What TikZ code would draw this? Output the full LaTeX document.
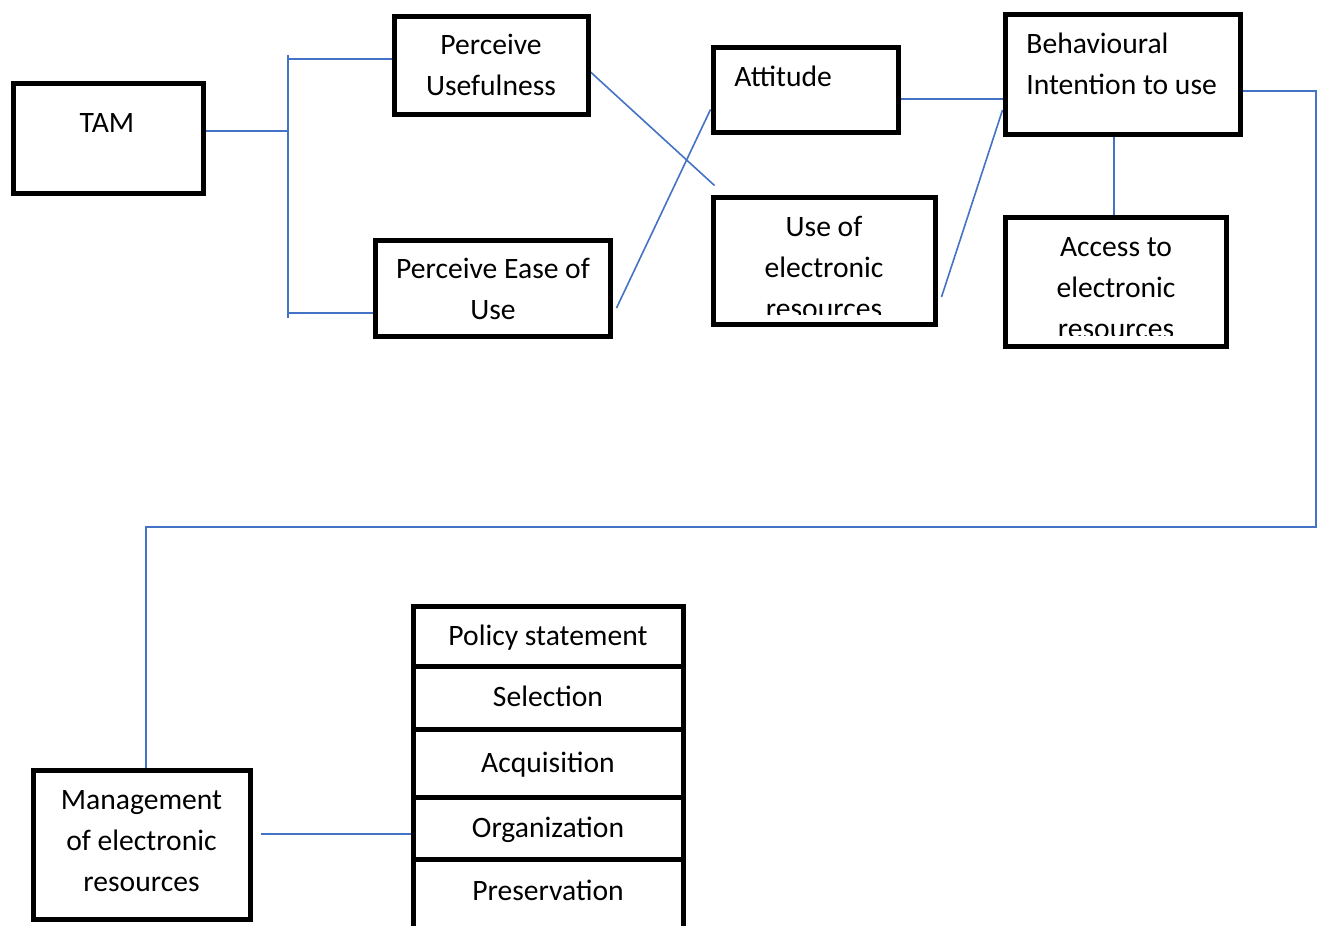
\documentclass[tikz,border=0pt]{standalone}
\usepackage{fontspec}
\setmainfont{Carlito}
\usepackage{tikz}
\usetikzlibrary{positioning,backgrounds}
\definecolor{lineblue}{RGB}{68,114,196}
\newcommand{\boxfont}{\fontsize{14.8pt}{20.5pt}\selectfont}
\tikzset{
  box/.style={draw, line width=2.5pt, inner sep=0pt, fill=white},
  txt/.style={inner sep=0pt, align=center, font=\boxfont},
  link/.style={draw=lineblue, line width=0.8pt},
  cell/.style={box, minimum width=135pt, font=\boxfont, text height=11pt, text depth=2pt}
}
\begin{document}
\begin{tikzpicture}[x=0.5pt,y=-0.5pt]
			\useasboundingbox (0,0) rectangle (1317,926);
			\node[box, minimum width=95pt, minimum height=55pt] (tam) at (108,138) {};
			\node[txt] (tamtxt) at (107,123) {TAM};
			\node[box, minimum width=97pt, minimum height=49pt] (pu) at (491,65) {};
			\node[txt] (putxt) at (491,65) {Perceive\\Usefulness};
			\node[box, minimum width=117.5pt, minimum height=48pt] (peu) at (492.5,288) {};
			\node[txt] (peutxt) at (493,289) {Perceive Ease of\\Use};
			\node[box, minimum width=92.5pt, minimum height=42.5pt] (att) at (805.5,89.5) {};
			\node[txt, anchor=west] (atttxt) at (734,76) {Attitude};
			\node[box, minimum width=111pt, minimum height=63.5pt] (use) at (824,260.5) {};
			\begin{scope}
				\clip (713,199) rectangle (935,314);
				\node[txt] (usetxt) at (824,267) {Use of\\electronic\\resources};
			\end{scope}
			\node[box, minimum width=117.5pt, minimum height=60pt] (bi) at (1122.5,74) {};
			\node[txt, align=left, anchor=west] (bitxt) at (1026,64) {Behavioural\\Intention to use};
			\node[box, minimum width=110.5pt, minimum height=64.5pt] (acc) at (1115.5,281.5) {};
			\begin{scope}
				\clip (1005,219) rectangle (1226,335);
				\node[txt] (acctxt) at (1116,288) {Access to\\electronic\\resources};
			\end{scope}
			\node[box, minimum width=108.5pt, minimum height=74.5pt] (mg) at (141.5,844.5) {};
			\node[txt] (mgtxt) at (141.5,841) {Management\\of electronic\\resources};
			\node[cell, minimum height=30pt] (pol) at (548,636) {Policy statement};
			\node[cell, minimum height=31.5pt] (sel) at (548,697.5) {Selection};
			\node[cell, minimum height=34pt] (acq) at (548,763) {Acquisition};
			\node[cell, minimum height=31pt] (org) at (548,828) {Organization};
			\node[cell, minimum height=36.5pt] (pre) at (548,895.5) {\raisebox{2pt}{Preservation}};
			\coordinate (br1) at (288,55);
			\coordinate (br2) at (288,318);
			\coordinate (cr) at (1316,527);
			\begin{scope}[on background layer]
			\draw[link] (br1) -- (br2);
			\draw[link] ([yshift=3.5pt]tam.east) -- ([yshift=3.5pt]tam.east -| br1);
			\draw[link] ([yshift=3pt]pu.west) -- ([yshift=3pt]pu.west -| br1);
			\draw[link] ([yshift=-12.5pt]peu.west) -- ([yshift=-12.5pt]peu.west -| br1);
			\draw[link] ([yshift=-3.5pt]pu.east) -- ([shift={(2pt,4.5pt)}]use.north west);
			\draw[link] ([shift={(2pt,-10pt)}]peu.east) -- ([yshift=-10pt]att.west);
			\draw[link] ([yshift=-4.75pt]att.east) -- ([yshift=-4.75pt]att.east -| bi.west);
			\draw[link] ([shift={(2pt,-18.25pt)}]use.east) -- ([yshift=-18pt]bi.west);
			\draw[link] ([xshift=-4.25pt]bi.south) -- ([xshift=-4.25pt]bi.south |- acc.north);
			\draw[link] ([yshift=-8.5pt]bi.east) -| (cr) -| ([xshift=2.25pt]mg.north);
			\draw[link] ([shift={(4pt,5.25pt)}]mg.east) -- ([shift={(4pt,5.25pt)}]mg.east -| org.west);
			\end{scope}
		\end{tikzpicture}
\end{document}
